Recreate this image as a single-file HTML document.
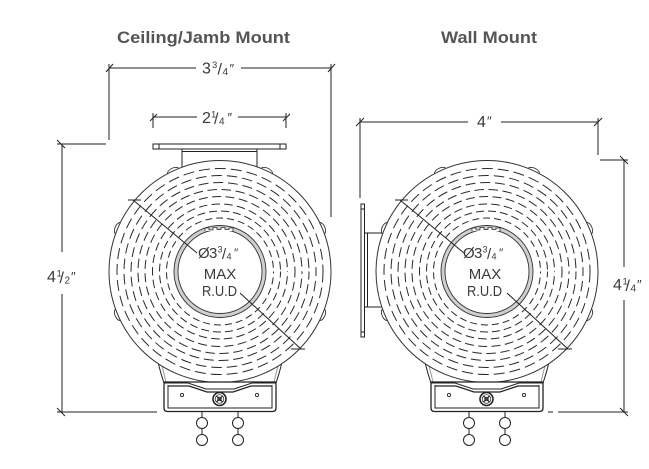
<!DOCTYPE html>
<html>
<head>
<meta charset="utf-8">
<style>
  html,body{margin:0;padding:0;background:#fff;}
  svg{display:block;}
  .t{font-family:"Liberation Sans","DejaVu Sans",sans-serif;}
</style>
</head>
<body>
<svg width="649" height="469" viewBox="0 0 649 469" xmlns="http://www.w3.org/2000/svg">
  <rect width="649" height="469" fill="#fff"/>

  <!-- Titles -->
  <text class="t" x="117" y="43" font-size="16.5" font-weight="bold" fill="#555" textLength="173" lengthAdjust="spacingAndGlyphs">Ceiling/Jamb Mount</text>
  <text class="t" x="441" y="43" font-size="16.5" font-weight="bold" fill="#555" textLength="96" lengthAdjust="spacingAndGlyphs">Wall Mount</text>

  <!-- ================= DIMENSIONS (LEFT) ================= -->
  <g stroke="#222" stroke-width="1" fill="none">
    <line x1="109" y1="68" x2="196" y2="68"/>
    <line x1="241" y1="68" x2="331" y2="68"/>
    <line x1="106" y1="72" x2="113" y2="64"/>
    <line x1="328" y1="72" x2="335" y2="64"/>
    <line x1="109" y1="64" x2="109" y2="140"/>
    <line x1="331" y1="64" x2="331" y2="217"/>
    <line x1="153" y1="117" x2="197" y2="117"/>
    <line x1="238" y1="117" x2="286" y2="117"/>
    <line x1="153" y1="113" x2="153" y2="128"/>
    <line x1="286" y1="113" x2="286" y2="128"/>
    <line x1="150" y1="121" x2="157" y2="114"/>
    <line x1="283" y1="121" x2="290" y2="114"/>
    <line x1="57" y1="144" x2="106" y2="144"/>
    <line x1="62" y1="144" x2="62" y2="252"/>
    <line x1="62" y1="294" x2="62" y2="412"/>
    <line x1="57" y1="412" x2="157" y2="412"/>
    <line x1="57" y1="140" x2="65" y2="148"/>
    <line x1="57" y1="408" x2="65" y2="416"/>

    <line x1="360" y1="122" x2="468" y2="122"/>
    <line x1="501" y1="122" x2="598" y2="122"/>
    <line x1="356" y1="126" x2="364" y2="118"/>
    <line x1="594" y1="126" x2="602" y2="118"/>
    <line x1="360" y1="118" x2="360" y2="198"/>
    <line x1="598" y1="118" x2="598" y2="155"/>
    <line x1="600" y1="160" x2="628" y2="160"/>
    <line x1="624" y1="160" x2="624" y2="267"/>
    <line x1="624" y1="300" x2="624" y2="412"/>
    <line x1="558" y1="412" x2="628" y2="412"/>
    <line x1="548" y1="412" x2="553" y2="412"/>
    <line x1="620" y1="156" x2="628" y2="164"/>
    <line x1="620" y1="408" x2="628" y2="416"/>
  </g>

  <!-- Dimension labels -->
  <g class="t" fill="#3a3a3a">
    <text><tspan x="202" y="73.5" font-size="16">3</tspan><tspan x="212" y="68" font-size="9.5">3</tspan><tspan x="217.5" y="74.5" font-size="16">/</tspan><tspan x="222.5" y="75" font-size="10">4</tspan><tspan x="229.5" y="73" font-size="13">″</tspan></text>
    <text><tspan x="202" y="123" font-size="16">2</tspan><tspan x="211" y="117.5" font-size="9.5">1</tspan><tspan x="214" y="124" font-size="16">/</tspan><tspan x="219" y="124.5" font-size="10">4</tspan><tspan x="227.5" y="122" font-size="13">″</tspan></text>
    <text><tspan x="477" y="127" font-size="16">4</tspan><tspan x="487" y="125.5" font-size="13">″</tspan></text>
    <text><tspan x="47" y="282" font-size="16">4</tspan><tspan x="56.5" y="276.5" font-size="9.5">1</tspan><tspan x="59.5" y="283" font-size="16">/</tspan><tspan x="64.5" y="283.5" font-size="10">2</tspan><tspan x="71" y="281" font-size="13">″</tspan></text>
    <text><tspan x="613" y="290" font-size="16">4</tspan><tspan x="622.5" y="284.5" font-size="9.5">1</tspan><tspan x="625.5" y="291" font-size="16">/</tspan><tspan x="630.5" y="291.5" font-size="10">4</tspan><tspan x="637" y="289" font-size="13">″</tspan></text>
  </g>

  <!-- CEILING BRACKET (LEFT) -->
  <g stroke="#222" stroke-width="1" fill="#fff">
    <rect x="182" y="149" width="75" height="22"/>
    <line x1="182" y1="151.5" x2="257" y2="151.5"/>
    <rect x="153" y="144" width="133" height="5"/>
    <line x1="159" y1="144" x2="159" y2="149"/>
    <line x1="280" y1="144" x2="280" y2="149"/>
  </g>

  <!-- WALL BRACKET (RIGHT) -->
  <g stroke="#222" stroke-width="1" fill="#fff">
    <rect x="364.5" y="233" width="22" height="74"/>
    <line x1="367.5" y1="233" x2="367.5" y2="307"/>
    <rect x="361" y="204" width="3.5" height="133"/>
    <line x1="361" y1="209" x2="364.5" y2="209"/>
    <line x1="361" y1="332" x2="364.5" y2="332"/>
  </g>

  <!-- DEVICE BODY (LEFT) -->
  <g>
    <path d="M158,362 C160,371 162,377 164,383 L276,383 C278,377 280,371 282,362 Z" fill="#fff" stroke="#222" stroke-width="1"/>
    <path d="M162,366 C164,373 165,378 166,382 M278,366 C276,373 275,378 274,382" fill="none" stroke="#999" stroke-width="1"/>
    <g fill="#fff" stroke="#333" stroke-width="0.9">
      <path transform="translate(220,271.5) rotate(-157)" d="M110.7,-6.5 Q113.8,-5 113.8,0 Q113.8,5 110.7,6.5"/>
      <path transform="translate(220,271.5) rotate(157)" d="M110.7,-6.5 Q113.8,-5 113.8,0 Q113.8,5 110.7,6.5"/>
      <path transform="translate(220,271.5) rotate(-115)" d="M110.7,-6.5 Q113.8,-5 113.8,0 Q113.8,5 110.7,6.5"/>
      <path transform="translate(220,271.5) rotate(-65)" d="M110.7,-6.5 Q113.8,-5 113.8,0 Q113.8,5 110.7,6.5"/>
      <path transform="translate(220,271.5) rotate(-23)" d="M110.7,-6.5 Q113.8,-5 113.8,0 Q113.8,5 110.7,6.5"/>
      <path transform="translate(220,271.5) rotate(23)" d="M110.7,-6.5 Q113.8,-5 113.8,0 Q113.8,5 110.7,6.5"/>
    </g>
    <circle cx="220" cy="271.5" r="111" fill="#fff" stroke="#333" stroke-width="1"/>
    <g fill="none" stroke="#2a2a2a" stroke-width="1">
      <circle cx="220" cy="271.5" r="103" stroke-dasharray="11 5"/>
      <circle cx="220" cy="271.5" r="96" stroke-dasharray="10.5 5" stroke-dashoffset="6"/>
      <circle cx="220" cy="271.5" r="89" stroke-dasharray="10 4.8" stroke-dashoffset="2"/>
      <circle cx="220" cy="271.5" r="82" stroke-dasharray="9.5 4.6" stroke-dashoffset="7"/>
      <circle cx="220" cy="271.5" r="75" stroke-dasharray="9 4.4" stroke-dashoffset="3"/>
      <circle cx="220" cy="271.5" r="67.5" stroke-dasharray="8.5 4.2" stroke-dashoffset="8"/>
      <circle cx="220" cy="271.5" r="60.5" stroke-dasharray="8 4" stroke-dashoffset="2"/>
      <circle cx="220" cy="271.5" r="53.5" stroke-dasharray="7 4" stroke-dashoffset="5"/>
    </g>
    <circle cx="220" cy="271.5" r="44" fill="#fff" stroke="#cfcfcf" stroke-width="4"/>
    <circle cx="220" cy="271.5" r="46" fill="none" stroke="#333" stroke-width="0.9"/>
    <circle cx="220" cy="271.5" r="42" fill="none" stroke="#333" stroke-width="0.9"/>
    <path d="M205,231 V228 H209 V230 H213 V227.5 H217 V229.5 H221 V227.5 H225 V229.5 H229 V228 H233 V231" fill="#fff" stroke="#333" stroke-width="0.8"/>
    <path d="M164,382 H276 V408 Q276,411.5 272.5,411.5 H167.5 Q164,411.5 164,408 Z" fill="#fff" stroke="#222" stroke-width="1.3"/>
    <g fill="none" stroke="#222">
      <path d="M168,385 V408 H272 V385" stroke-width="1"/>
      <path d="M164,383 H188 L206,389 H234 L252,383 H276" stroke-width="1"/>
      <path d="M168,386 H189 L207,392 H233 L251,386 H272" stroke-width="1.3"/>
      <circle cx="182" cy="395" r="1.6" stroke-width="0.9"/>
      <circle cx="257" cy="395" r="1.6" stroke-width="0.9"/>
      <circle cx="219.5" cy="399" r="6.5" stroke-width="1.6"/>
      <circle cx="219.5" cy="399" r="4.3" stroke-width="0.7"/>
      <path d="M216.5,396 L222.5,402 M222.5,396 L216.5,402" stroke-width="1.2"/>
      <rect x="217.8" y="397.3" width="3.4" height="3.4" stroke-width="0.8"/>
      <line x1="202" y1="411.5" x2="202" y2="417.5"/>
      <line x1="202" y1="428.5" x2="202" y2="434.5"/>
      <circle cx="202" cy="423" r="5.5"/>
      <circle cx="202" cy="440" r="5.5"/>
      <line x1="238" y1="411.5" x2="238" y2="417.5"/>
      <line x1="238" y1="428.5" x2="238" y2="434.5"/>
      <circle cx="238" cy="423" r="5.5"/>
      <circle cx="238" cy="440" r="5.5"/>
      <line x1="133" y1="200" x2="197" y2="253" stroke-width="1"/>
      <line x1="128" y1="200" x2="141" y2="200" stroke-width="1"/>
      <line x1="240" y1="293" x2="301" y2="349" stroke-width="1"/>
      <line x1="291" y1="349" x2="305" y2="349" stroke-width="1"/>
    </g>
  </g>

  <!-- DEVICE BODY (RIGHT) -->
  <g transform="translate(267,0)">
    <path d="M158,362 C160,371 162,377 164,383 L276,383 C278,377 280,371 282,362 Z" fill="#fff" stroke="#222" stroke-width="1"/>
    <path d="M162,366 C164,373 165,378 166,382 M278,366 C276,373 275,378 274,382" fill="none" stroke="#999" stroke-width="1"/>
    <g fill="#fff" stroke="#333" stroke-width="0.9">
      <path transform="translate(220,271.5) rotate(-157)" d="M110.7,-6.5 Q113.8,-5 113.8,0 Q113.8,5 110.7,6.5"/>
      <path transform="translate(220,271.5) rotate(157)" d="M110.7,-6.5 Q113.8,-5 113.8,0 Q113.8,5 110.7,6.5"/>
      <path transform="translate(220,271.5) rotate(-115)" d="M110.7,-6.5 Q113.8,-5 113.8,0 Q113.8,5 110.7,6.5"/>
      <path transform="translate(220,271.5) rotate(-65)" d="M110.7,-6.5 Q113.8,-5 113.8,0 Q113.8,5 110.7,6.5"/>
      <path transform="translate(220,271.5) rotate(-23)" d="M110.7,-6.5 Q113.8,-5 113.8,0 Q113.8,5 110.7,6.5"/>
      <path transform="translate(220,271.5) rotate(23)" d="M110.7,-6.5 Q113.8,-5 113.8,0 Q113.8,5 110.7,6.5"/>
    </g>
    <circle cx="220" cy="271.5" r="111" fill="#fff" stroke="#333" stroke-width="1"/>
    <g fill="none" stroke="#2a2a2a" stroke-width="1">
      <circle cx="220" cy="271.5" r="103" stroke-dasharray="11 5"/>
      <circle cx="220" cy="271.5" r="96" stroke-dasharray="10.5 5" stroke-dashoffset="6"/>
      <circle cx="220" cy="271.5" r="89" stroke-dasharray="10 4.8" stroke-dashoffset="2"/>
      <circle cx="220" cy="271.5" r="82" stroke-dasharray="9.5 4.6" stroke-dashoffset="7"/>
      <circle cx="220" cy="271.5" r="75" stroke-dasharray="9 4.4" stroke-dashoffset="3"/>
      <circle cx="220" cy="271.5" r="67.5" stroke-dasharray="8.5 4.2" stroke-dashoffset="8"/>
      <circle cx="220" cy="271.5" r="60.5" stroke-dasharray="8 4" stroke-dashoffset="2"/>
      <circle cx="220" cy="271.5" r="53.5" stroke-dasharray="7 4" stroke-dashoffset="5"/>
    </g>
    <circle cx="220" cy="271.5" r="44" fill="#fff" stroke="#cfcfcf" stroke-width="4"/>
    <circle cx="220" cy="271.5" r="46" fill="none" stroke="#333" stroke-width="0.9"/>
    <circle cx="220" cy="271.5" r="42" fill="none" stroke="#333" stroke-width="0.9"/>
    <path d="M205,231 V228 H209 V230 H213 V227.5 H217 V229.5 H221 V227.5 H225 V229.5 H229 V228 H233 V231" fill="#fff" stroke="#333" stroke-width="0.8"/>
    <path d="M164,382 H276 V408 Q276,411.5 272.5,411.5 H167.5 Q164,411.5 164,408 Z" fill="#fff" stroke="#222" stroke-width="1.3"/>
    <g fill="none" stroke="#222">
      <path d="M168,385 V408 H272 V385" stroke-width="1"/>
      <path d="M164,383 H188 L206,389 H234 L252,383 H276" stroke-width="1"/>
      <path d="M168,386 H189 L207,392 H233 L251,386 H272" stroke-width="1.3"/>
      <circle cx="182" cy="395" r="1.6" stroke-width="0.9"/>
      <circle cx="257" cy="395" r="1.6" stroke-width="0.9"/>
      <circle cx="219.5" cy="399" r="6.5" stroke-width="1.6"/>
      <circle cx="219.5" cy="399" r="4.3" stroke-width="0.7"/>
      <path d="M216.5,396 L222.5,402 M222.5,396 L216.5,402" stroke-width="1.2"/>
      <rect x="217.8" y="397.3" width="3.4" height="3.4" stroke-width="0.8"/>
      <line x1="202" y1="411.5" x2="202" y2="417.5"/>
      <line x1="202" y1="428.5" x2="202" y2="434.5"/>
      <circle cx="202" cy="423" r="5.5"/>
      <circle cx="202" cy="440" r="5.5"/>
      <line x1="238" y1="411.5" x2="238" y2="417.5"/>
      <line x1="238" y1="428.5" x2="238" y2="434.5"/>
      <circle cx="238" cy="423" r="5.5"/>
      <circle cx="238" cy="440" r="5.5"/>
      <line x1="133" y1="200" x2="197" y2="253" stroke-width="1"/>
      <line x1="128" y1="200" x2="141" y2="200" stroke-width="1"/>
      <line x1="240" y1="293" x2="301" y2="349" stroke-width="1"/>
      <line x1="291" y1="349" x2="305" y2="349" stroke-width="1"/>
    </g>
  </g>

  <!-- Center labels -->
  <g class="t" fill="#3a3a3a">
    <text><tspan x="198" y="258" font-size="15">Ø</tspan><tspan x="209" y="258" font-size="15">3</tspan><tspan x="217.5" y="252.5" font-size="9">3</tspan><tspan x="222" y="259" font-size="15">/</tspan><tspan x="226.5" y="259.5" font-size="9">4</tspan><tspan x="234" y="257" font-size="12">″</tspan></text>
    <text x="220" y="279" font-size="15" text-anchor="middle">MAX</text>
    <text x="202" y="296" font-size="15" textLength="35" lengthAdjust="spacingAndGlyphs">R.U.D</text>

    <text><tspan x="463" y="258" font-size="15">Ø</tspan><tspan x="474" y="258" font-size="15">3</tspan><tspan x="482.5" y="252.5" font-size="9">3</tspan><tspan x="487" y="259" font-size="15">/</tspan><tspan x="491.5" y="259.5" font-size="9">4</tspan><tspan x="499" y="257" font-size="12">″</tspan></text>
    <text x="485" y="279" font-size="15" text-anchor="middle">MAX</text>
    <text x="467" y="296" font-size="15" textLength="35" lengthAdjust="spacingAndGlyphs">R.U.D</text>
  </g>
</svg>
</body>
</html>
